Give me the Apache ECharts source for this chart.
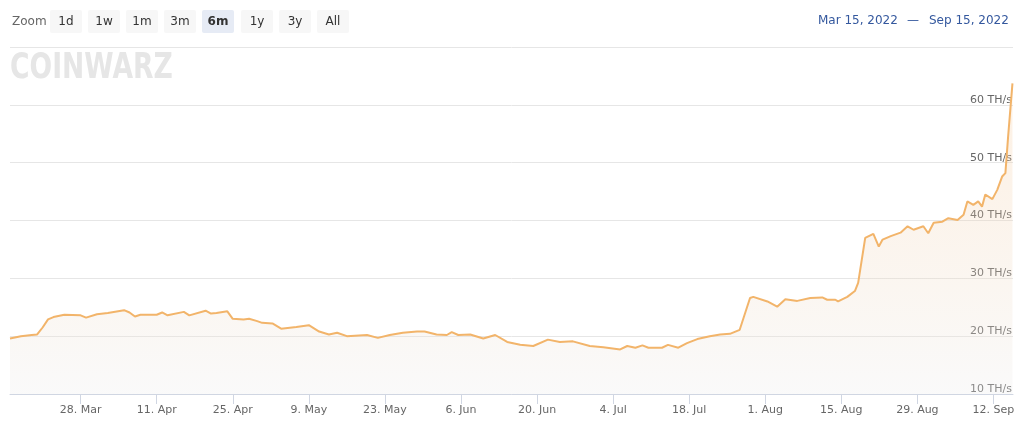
<!DOCTYPE html>
<html>
<head>
<meta charset="utf-8">
<script src="https://cdn.jsdelivr.net/npm/echarts@6/dist/echarts.min.js"></script>
<style>
  html, body { margin: 0; padding: 0; background: #ffffff; }
  #chart { width: 1024px; height: 434px; }
</style>
</head>
<body>
<div id="chart"></div>
<script>
// Days since Mar 15, 2022
var dayOffsets = [0, 2, 4, 5, 6, 7, 8, 10, 13, 14, 16, 18, 21, 22, 23, 24, 27, 28, 29, 32, 33, 36, 37, 38, 40, 41, 43, 44, 45.5, 46.4, 48.3, 49.9, 52.7, 55, 56.9, 58.7, 60.2, 62.0, 65.7, 67.7, 69.9, 72.3, 74.9, 76.3, 78.5, 80.4, 81.3, 82.5, 84.7, 87.1, 89.3, 91.5, 93.9, 96.3, 99.0, 101.2, 103.6, 106.7, 109.2, 112.3, 113.6, 115.1, 116.4, 117.5, 120.0, 121.1, 123.0, 124.6, 126.5, 128.8, 130.7, 132.5, 134.3, 136.2, 136.8, 139.4, 141.2, 142.7, 144.9, 147.3, 149.5, 150.4, 151.9, 152.4, 154.1, 155.5, 156.1, 157.4, 158.9, 159.9, 160.6, 162.1, 163.9, 165.2, 166.3, 168.1, 169.0, 170.0, 171.6, 172.7, 174.4, 175.5, 176.2, 177.3, 178.2, 178.9, 179.5, 180.8, 181.7, 182.6, 183.2, 183.7, 184.5];
// Network hashrate, TH/s
var hashrate = [19.6, 20.0, 20.2, 20.3, 21.5, 22.9, 23.3, 23.7, 23.6, 23.2, 23.8, 24.0, 24.5, 24.1, 23.4, 23.7, 23.7, 24.1, 23.6, 24.2, 23.6, 24.4, 23.9, 24.0, 24.3, 23.0, 22.9, 23.0, 22.6, 22.3, 22.2, 21.3, 21.6, 21.9, 20.8, 20.3, 20.6, 20.0, 20.2, 19.7, 20.2, 20.6, 20.8, 20.8, 20.3, 20.2, 20.7, 20.2, 20.3, 19.6, 20.2, 19.0, 18.5, 18.3, 19.4, 19.0, 19.1, 18.3, 18.1, 17.7, 18.3, 18.0, 18.4, 18.0, 18.0, 18.5, 18.0, 18.8, 19.5, 20.0, 20.3, 20.4, 21.1, 26.6, 26.8, 26.0, 25.1, 26.4, 26.1, 26.6, 26.7, 26.3, 26.3, 26.0, 26.8, 27.8, 29.2, 37.0, 37.7, 35.5, 36.7, 37.3, 37.9, 39.0, 38.4, 39.0, 37.8, 39.6, 39.8, 40.4, 40.1, 41.0, 43.3, 42.7, 43.3, 42.4, 44.5, 43.7, 45.3, 47.6, 48.2, 54.5, 63.7];
var startDate = '2022-03-15';
var tickDates = ['2022-03-28', '2022-04-11', '2022-04-25', '2022-05-09', '2022-05-23', '2022-06-06', '2022-06-20', '2022-07-04', '2022-07-18', '2022-08-01', '2022-08-15', '2022-08-29', '2022-09-12'];
var tickLabels = ['28. Mar', '11. Apr', '25. Apr', '9. May', '23. May', '6. Jun', '20. Jun', '4. Jul', '18. Jul', '1. Aug', '15. Aug', '29. Aug', '12. Sep'];
var zoomButtons = ['1d', '1w', '1m', '3m', '6m', '1y', '3y', 'All'];
var selectedButton = '6m';
var rangeFrom = 'Mar 15, 2022';
var rangeTo = 'Sep 15, 2022';
var yMin = 10, yMax = 70, yStep = 10;
var xMaxDays = 184.6;

var DAY = 86400000;
function utc(s) { var p = s.split('-'); return Date.UTC(+p[0], +p[1] - 1, +p[2]); }
var startTs = utc(startDate);
var seriesData = dayOffsets.map(function (d, i) { return [d, hashrate[i]]; });
var tickDays = tickDates.map(function (s) { return Math.round((utc(s) - startTs) / DAY); });
var labelMap = {};
tickDays.forEach(function (t, i) { labelMap[t] = tickLabels[i]; });

var FONT = 'DejaVu Sans';
var graphics = [];
graphics.push({ type: 'text', x: 12, y: 22, style: { text: 'Zoom', font: '12px ' + FONT, fill: '#666666', verticalAlign: 'middle' } });
var btnX = [50, 88, 126, 164, 202, 241, 279, 317];
zoomButtons.forEach(function (b, i) {
  var sel = b === selectedButton;
  graphics.push({ type: 'rect', shape: { x: btnX[i], y: 10, width: 32, height: 23, r: 2 }, style: { fill: sel ? '#e6ebf5' : '#f7f7f7' } });
  graphics.push({ type: 'text', x: btnX[i] + 16, y: 22, style: { text: b, font: (sel ? 'bold ' : '') + '12px ' + FONT, fill: '#333333', align: 'center', verticalAlign: 'middle' } });
});
graphics.push({ type: 'text', x: 818, y: 21, style: { text: rangeFrom, font: '12px ' + FONT, fill: '#34589e', verticalAlign: 'middle' } });
graphics.push({ type: 'text', x: 913, y: 21, style: { text: '\u2014', font: '12px ' + FONT, fill: '#34589e', align: 'center', verticalAlign: 'middle' } });
graphics.push({ type: 'text', x: 929, y: 21, style: { text: rangeTo, font: '12px ' + FONT, fill: '#34589e', verticalAlign: 'middle' } });
graphics.push({ type: 'text', x: 10, y: 51, scaleX: 0.76, z: 0, style: { text: 'COINWARZ', font: '900 35px ' + FONT, fill: '#e6e6e6', verticalAlign: 'top' } });

var chart = echarts.init(document.getElementById('chart'), null, { renderer: 'canvas' });
chart.setOption({
  animation: false,
  backgroundColor: '#ffffff',
  textStyle: { fontFamily: FONT },
  graphic: graphics,
  grid: { left: 10, right: 11, top: 47, bottom: 40, containLabel: false },
  xAxis: {
    type: 'value',
    min: 0,
    max: xMaxDays,
    axisLine: { show: true, lineStyle: { color: '#d0d6e2', width: 1 } },
    axisTick: { show: true, length: 10, customValues: tickDays, lineStyle: { color: '#d0d6e2' } },
    axisLabel: {
      customValues: tickDays,
      formatter: function (v) { return labelMap[Math.round(v)] || ''; },
      color: '#666666', fontSize: 11, fontFamily: FONT, margin: 11
    },
    splitLine: { show: false }
  },
  yAxis: {
    type: 'value',
    position: 'right',
    min: yMin, max: yMax, interval: yStep,
    axisLine: { show: false },
    axisTick: { show: false },
    splitLine: { show: true, lineStyle: { color: '#e6e6e6', width: 1 } },
    axisLabel: {
      inside: true, margin: 1, showMaxLabel: false,
      formatter: '{value} TH/s', color: '#666666', fontSize: 11, fontFamily: FONT,
      verticalAlign: 'bottom', lineHeight: 10
    }
  },
  series: [{
    type: 'line',
    data: seriesData,
    showSymbol: false,
    smooth: false,
    lineStyle: { color: '#f2b46a', width: 2 },
    itemStyle: { color: '#f2b46a' },
    areaStyle: {
      color: new echarts.graphic.LinearGradient(0, 47, 0, 394, [
        { offset: 0, color: 'rgba(247,185,120,0.30)' },
        { offset: 1, color: 'rgba(236,236,236,0.40)' }
      ], true)
    }
  }]
});
</script>
</body>
</html>
